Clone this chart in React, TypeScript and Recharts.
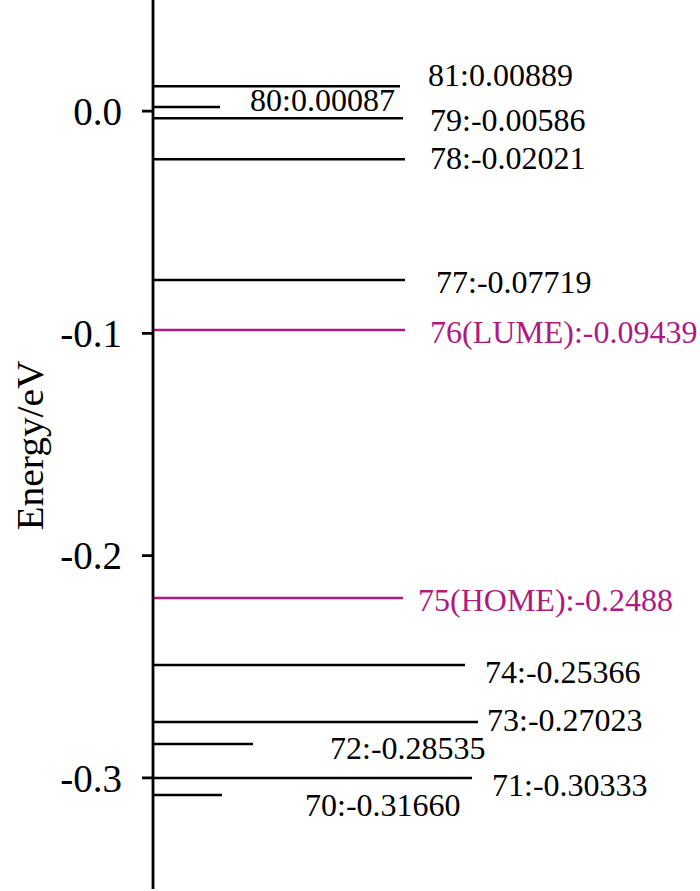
import { LineChart, Line, XAxis, YAxis } from "recharts";

// orbital levels as drawn (energy in eV)
const orbitals = [81, 80, 79, 78, 77, 76, 75, 74, 73, 72, 71, 70];
const energies = [0.0112, 0.0018, -0.0032, -0.0216, -0.076, -0.0985, -0.2191, -0.2492, -0.2749, -0.2848, -0.3, -0.3077];
const lengths = [49.4, 13.4, 50, 50.4, 50.4, 50.4, 50, 62.4, 65, 20, 63.8, 13.8];
const labels = [
  "81:0.00889",
  "80:0.00087",
  "79:-0.00586",
  "78:-0.02021",
  "77:-0.07719",
  "76(LUME):-0.09439",
  "75(HOME):-0.2488",
  "74:-0.25366",
  "73:-0.27023",
  "72:-0.28535",
  "71:-0.30333",
  "70:-0.31660",
];
const frontier = [76, 75];
const yTicks = [0, -0.1, -0.2, -0.3];

// label placement relative to each line's right end (px)
const labelShift = [
  [28, -11], [30, -7], [27, 2], [25, -1], [31, 2], [25, 2],
  [15, 2], [20, 7], [9, -2], [77, 4], [20, 7], [83, 10],
];

const FONT = "'Liberation Serif', 'Times New Roman', serif";
const MAGENTA = "#ad1a84";

const EnergyLabel = ({ viewBox }: any) => {
  const cx = 30;
  const cy = viewBox.y + viewBox.height / 2 + 1;
  return (
    <text x={cx} y={cy} transform={`rotate(-90 ${cx} ${cy})`} textAnchor="middle" dominantBaseline="central"
      fontFamily={FONT} fontSize={37} fill="#000" textLength={170} lengthAdjust="spacingAndGlyphs">
      Energy/eV
    </text>
  );
};

export default function App() {
  return (
    <div style={{ position: "absolute", left: 0, top: 0, width: 700, height: 891, background: "#fff" }}>
      <LineChart width={700} height={891} margin={{ top: 0, right: 47, bottom: 2, left: 0 }}>
        <XAxis type="number" dataKey="x" domain={[0, 100]} hide />
        <YAxis
          type="number"
          domain={[-0.35, 0.05]}
          ticks={yTicks}
          width={153}
          tickFormatter={(v: number) => v.toFixed(1)}
          axisLine={{ stroke: "#000", strokeWidth: 2.8 }}
          tickLine={{ stroke: "#000", strokeWidth: 2.8 }}
          tickSize={11}
          tickMargin={20}
          tick={{ fill: "#000", fontSize: 39, fontFamily: FONT }}
          label={<EnergyLabel />}
        />
        {orbitals.map((n, i) => {
          const color = frontier.includes(n) ? MAGENTA : "#000";
          const [dx, dy] = labelShift[i];
          return (
            <Line
              key={n}
              data={[{ x: 0, y: energies[i] }, { x: lengths[i], y: energies[i] }]}
              dataKey="y"
              stroke={color}
              strokeWidth={2.5}
              dot={false}
              isAnimationActive={false}
              label={(p: any) =>
                p.index === 1 ? (
                  <text key="l" x={p.x + dx} y={p.y + dy} dominantBaseline="central" fontFamily={FONT}
                    fontSize={32} fill={color}>
                    {labels[i]}
                  </text>
                ) : (
                  <g key="n" />
                )
              }
            />
          );
        })}
      </LineChart>
    </div>
  );
}
